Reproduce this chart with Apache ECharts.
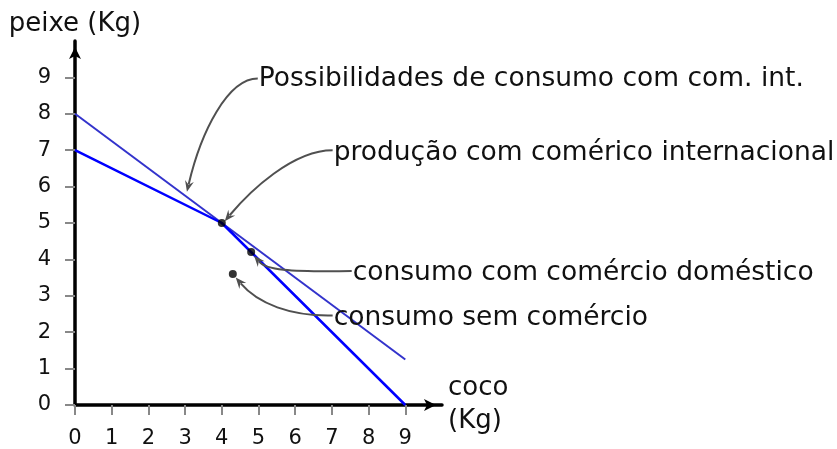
<!DOCTYPE html>
<html><head><meta charset="utf-8">
<script src="https://cdn.jsdelivr.net/npm/echarts@6/dist/echarts.min.js"></script>
<style>html,body{margin:0;padding:0;background:#fff}#c{width:837px;height:449px}</style>
</head><body><div id="c"></div>
<script>
// ---- data ----
const xTicks = [0, 1, 2, 3, 4, 5, 6, 7, 8, 9];
const yTicks = [0, 1, 2, 3, 4, 5, 6, 7, 8, 9];
const consumoX = [0, 9];
const consumoY = [8, 1.25];
const producaoX = [0, 4, 9];
const producaoY = [7, 5, 0];
const pontosX = [4, 4.8, 4.3];
const pontosY = [5, 4.2, 3.6];
const annotTexts = [
  "Possibilidades de consumo com com. int.",
  "produção com comérico internacional",
  "consumo com comércio doméstico",
  "consumo sem comércio"
];
// annotation anchors (data coords): text start and arrow tip
const annotTextX = [4.98, 7.02, 7.54, 7.02];
const annotTextY = [8.97, 7.0, 3.68, 2.46];
const annotTipX = [3.05, 4.08, 4.88, 4.38];
const annotTipY = [5.86, 5.05, 4.1, 3.5];

// ---- chart ----
const FONT = 'DejaVu Sans';
const chart = echarts.init(document.getElementById('c'), null, {renderer: 'canvas'});
const zip = (a, b) => a.map((v, i) => [v, b[i]]);

chart.setOption({
  animation: false,
  backgroundColor: '#fff',
  grid: {left: 75, right: 395, top: 41, bottom: 42},
  xAxis: {
    type: 'value', min: 0, max: 10, interval: 1,
    name: 'coco\n(Kg)', nameLocation: 'end', nameGap: 6,
    nameTextStyle: {fontFamily: FONT, fontSize: 26, color: '#111', lineHeight: 33, align: 'left', verticalAlign: 'middle', padding: [0, 0, 12, 0]},
    axisLine: {show: true, lineStyle: {color: '#000', width: 3.5}, symbol: ['none', 'arrow'], symbolSize: [9, 12], symbolOffset: [0, -6]},
    axisTick: {show: true, customValues: xTicks, length: 10, lineStyle: {color: '#888', width: 2}},
    axisLabel: {customValues: xTicks, margin: 23, fontFamily: FONT, fontSize: 21, color: '#111'},
    splitLine: {show: false}
  },
  yAxis: {
    type: 'value', min: 0, max: 10, interval: 1,
    name: 'peixe (Kg)', nameLocation: 'end', nameGap: 4,
    nameTextStyle: {fontFamily: FONT, fontSize: 26, color: '#111'},
    axisLine: {show: true, lineStyle: {color: '#000', width: 3.5}, symbol: ['none', 'arrow'], symbolSize: [9, 12], symbolOffset: [0, -6]},
    axisTick: {show: true, customValues: yTicks, length: 10, lineStyle: {color: '#888', width: 2}},
    axisLabel: {customValues: yTicks, margin: 24, fontFamily: FONT, fontSize: 21, color: '#111'},
    splitLine: {show: false}
  },
  series: [
    {type: 'line', data: zip(consumoX, consumoY), symbol: 'none', lineStyle: {color: '#3333cc', width: 2}, z: 2},
    {type: 'line', data: zip(producaoX, producaoY), symbol: 'none', lineStyle: {color: '#0000ff', width: 2.5}, z: 3},
    {type: 'scatter', data: zip(pontosX, pontosY), symbol: 'circle', symbolSize: 8, itemStyle: {color: '#000'}, z: 5}
  ]
});

// curve shapes (pixel offsets of control points relative to start / tip)
const ctrl = [
  [[-30, 0], [14, -60]],
  [[-40, 0], [25, -30]],
  [[-65, 1], [12, 14]],
  [[-42, 1], [22, 26]]
];
const graphics = [];
annotTexts.forEach((t, i) => {
  const p0 = chart.convertToPixel({gridIndex: 0}, [annotTextX[i], annotTextY[i]]);
  const p3 = chart.convertToPixel({gridIndex: 0}, [annotTipX[i], annotTipY[i]]);
  const c1 = [p0[0] + ctrl[i][0][0], p0[1] + ctrl[i][0][1]];
  const c2 = [p3[0] + ctrl[i][1][0], p3[1] + ctrl[i][1][1]];
  const dx = p3[0] - c2[0], dy = p3[1] - c2[1];
  const len = Math.hypot(dx, dy), ux = dx / len, uy = dy / len;
  const ah = 11, aw = 4.5;
  const base = [p3[0] - ux * ah * 0.7, p3[1] - uy * ah * 0.7];
  graphics.push({
    type: 'bezierCurve', z: 10,
    shape: {x1: p0[0], y1: p0[1], cpx1: c1[0], cpy1: c1[1], cpx2: c2[0], cpy2: c2[1], x2: base[0], y2: base[1]},
    style: {stroke: '#505050', lineWidth: 2, fill: null}
  });
  const bx = p3[0] - ux * ah, by = p3[1] - uy * ah;
  graphics.push({
    type: 'polygon', z: 11,
    shape: {points: [
      [p3[0], p3[1]],
      [bx - uy * aw, by + ux * aw],
      [p3[0] - ux * ah * 0.65, p3[1] - uy * ah * 0.65],
      [bx + uy * aw, by - ux * aw]
    ]},
    style: {fill: '#505050', stroke: null}
  });
  graphics.push({
    type: 'text', z: 12,
    x: p0[0] + 1, y: p0[1] + (i === 0 ? 1 : 2.5),
    style: {text: t, fontFamily: FONT, fontSize: 26.5, fill: '#111', align: 'left', verticalAlign: 'middle'}
  });
});
chart.setOption({graphic: graphics});
</script>
</body></html>
